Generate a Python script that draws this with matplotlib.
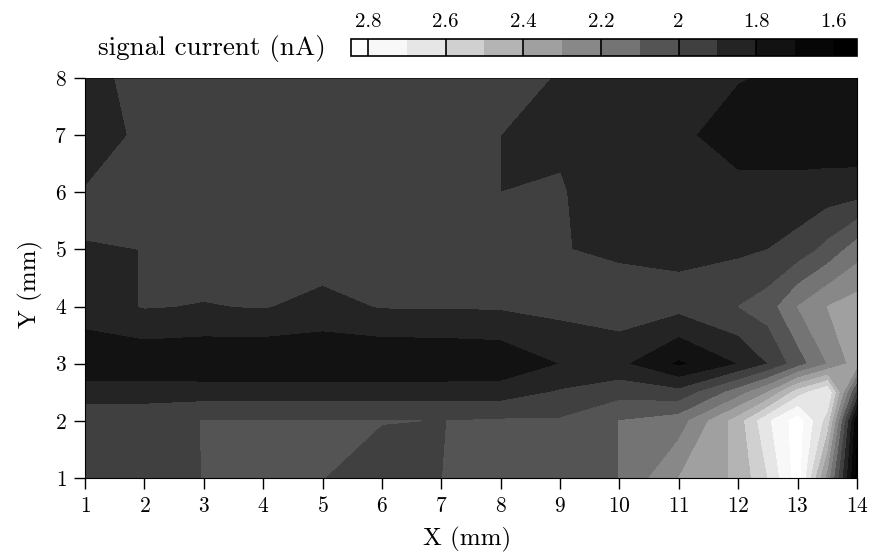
#!/usr/bin/env python3
import matplotlib
matplotlib.use("Agg")
import matplotlib.pyplot as plt
from matplotlib.colors import ListedColormap, BoundaryNorm
import numpy as np

plt.rcParams['font.family'] = ['cmr10', 'DejaVu Serif']
plt.rcParams['axes.formatter.use_mathtext'] = True

x_mm = [1, 2, 3, 4, 5, 6, 7, 8, 9, 10, 11, 12, 12.5, 13, 13.5, 14]
y_mm = [1, 2, 2.5, 3, 4, 5, 6, 7, 8]
x_ticks = [1, 2, 3, 4, 5, 6, 7, 8, 9, 10, 11, 12, 13, 14]
y_ticks = [1, 2, 3, 4, 5, 6, 7, 8]

# signal current (nA), one row per Y
row_y1 = [1.97, 1.97, 2.001, 2.05, 2.001, 1.97, 1.999, 2.05, 2.05, 2.101, 2.30, 2.42, 2.60, 2.85, 2.25, 1.55]
row_y2 = [1.97, 1.97, 2.002, 2.003, 2.003, 2.002, 1.999, 2.01, 2.01, 2.101, 2.15, 2.45, 2.68, 2.85, 2.55, 1.60]
row_y25 = [1.85, 1.85, 1.85, 1.85, 1.85, 1.85, 1.85, 1.85, 1.91, 1.96, 1.93, 2.15, 2.30, 2.55, 2.70, 1.95]
row_y3 = [1.72, 1.72, 1.71, 1.705, 1.705, 1.705, 1.71, 1.72, 1.80, 1.82, 1.68, 1.80, 1.90, 2.05, 2.20, 2.35]
row_y4 = [1.85, 1.905, 1.895, 1.905, 1.87, 1.905, 1.905, 1.91, 1.93, 1.96, 1.93, 2.00, 2.05, 2.20, 2.30, 2.35]
row_y5 = [1.899, 1.9001, 1.95, 1.95, 1.95, 1.95, 1.95, 1.95, 1.905, 1.88, 1.88, 1.88, 1.90, 1.94, 2.03, 2.15]
row_y6 = [1.905, 1.95, 1.95, 1.95, 1.95, 1.95, 1.95, 1.90, 1.91, 1.82, 1.82, 1.83, 1.83, 1.83, 1.85, 1.86]
row_y7 = [1.85, 1.92, 1.95, 1.95, 1.95, 1.95, 1.95, 1.90, 1.88, 1.85, 1.82, 1.75, 1.75, 1.75, 1.73, 1.72]
row_y8 = [1.85, 1.95, 1.95, 1.95, 1.95, 1.95, 1.95, 1.95, 1.89, 1.85, 1.85, 1.805, 1.79, 1.77, 1.76, 1.75]

levels = [1.5, 1.6, 1.7, 1.8, 1.9, 2.0, 2.1, 2.2, 2.3, 2.4, 2.5, 2.6, 2.7, 2.8, 2.9]
band_greys = ['#000000', '#060606', '#121212', '#242424', '#404040', '#545454',
              '#747474', '#888888', '#a0a0a0', '#b4b4b4', '#d0d0d0', '#e6e6e6',
              '#f8f8f8', '#ffffff']
cbar_ticks = [2.8, 2.6, 2.4, 2.2, 2.0, 1.8, 1.6]
cbar_labels = ['2.8', '2.6', '2.4', '2.2', '2', '1.8', '1.6']

z = np.array([row_y1, row_y2, row_y25, row_y3, row_y4, row_y5, row_y6, row_y7, row_y8])

W, H = 869, 557
fig = plt.figure(figsize=(W / 100, H / 100), dpi=100)
ax = fig.add_axes([85 / W, (H - 478) / H, 772 / W, 400 / H])

cmap = ListedColormap(band_greys)
norm = BoundaryNorm(levels, cmap.N)
cs = ax.contourf(x_mm, y_mm, z, levels=levels, cmap=cmap, norm=norm)

ax.set_xlim(1, 14)
ax.set_ylim(1, 8)
ax.set_xticks(x_ticks)
ax.set_yticks(y_ticks)
ax.tick_params(length=8, width=1, labelsize=15.5, pad=5)
ax.set_xlabel('X (mm)', fontsize=18, labelpad=8, x=0.495)
ax.set_ylabel('Y (mm)', fontsize=18, labelpad=8, y=0.485)
ax.spines['top'].set_linewidth(0.4)

# colour bar above the map, running high to low
cax = fig.add_axes([351 / W, (H - 56) / H, 506 / W, 17 / H])
cbar = fig.colorbar(cs, cax=cax, orientation='horizontal', drawedges=False)
cax.set_xlim(2.844, 1.54)
cbar.set_ticks(cbar_ticks)
cbar.set_ticklabels(cbar_labels)
cax.xaxis.set_ticks_position('top')
cax.tick_params(axis='x', direction='in', length=12, width=1.2, labelsize=15, pad=6)
cax.minorticks_off()
cbar.outline.set_linewidth(1.2)

fig.text(98 / W, (H - 48) / H, 'signal current (nA)', fontsize=19.5, va='center')

fig.savefig('out.png', dpi=100)
